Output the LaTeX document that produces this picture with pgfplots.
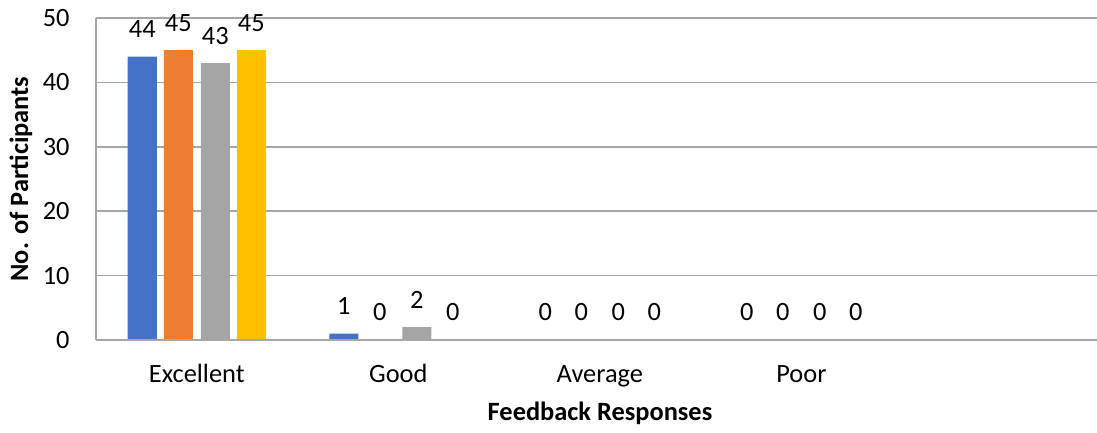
\documentclass[border=0pt]{standalone}
\usepackage{pgfplots}
\pgfplotsset{compat=1.18}
\usepackage{fontspec}
\setmainfont{Carlito}

\definecolor{c1}{HTML}{4472C4}
\definecolor{c2}{HTML}{ED7D31}
\definecolor{c3}{HTML}{A5A5A5}
\definecolor{c4}{HTML}{FFC000}
\definecolor{gridc}{HTML}{A6A6A6}

\begin{document}
\begin{tikzpicture}
\path[use as bounding box] (-48pt,-46.5pt) rectangle (500.5pt,170pt);
\begin{axis}[
    at={(0,0)}, anchor=south west,
    scale only axis,
    width=500.5pt, height=161pt,
    font=\fontsize{13.2}{15}\selectfont,
    /pgf/number format/assume math mode=true,
    ybar, bar width=0.144,
    xmin=-0.5, xmax=4.467,
    ymin=0, ymax=50,
    ytick={0,10,20,30,40,50},
    xtick={0,1,2,3},
    xticklabels={Excellent,Good,Average,Poor},
    major tick length=0pt,
    ymajorgrids=true,
    grid style={gridc, line width=0.75pt},
    axis x line*=bottom, axis y line*=left,
    axis line style={gridc, line width=0.75pt, -},
    xticklabel style={anchor=base, inner sep=0pt, yshift=-21pt},
    yticklabel style={anchor=east, inner sep=0pt, xshift=-13pt},
    xlabel={\textbf{Feedback Responses}},
    ylabel={\textbf{No. of Participants}},
    xlabel style={at={(axis description cs:0.5035,-0.2267)}, anchor=center},
    ylabel style={at={(axis description cs:-0.075,0.5)}, anchor=center, rotate=0},
    nodes near coords,
    every node near coord/.append style={anchor=base, inner sep=0pt, yshift=9.5pt, black},
    clip=false,
]
\addplot[fill=c1, draw=none, bar shift=-0.2705] coordinates {(0,44) (1,1) (2,0) (3,0)};
\addplot[fill=c2, draw=none, bar shift=-0.0918] coordinates {(0,45) (1,0) (2,0) (3,0)};
\addplot[fill=c3, draw=none, bar shift=0.0918] coordinates {(0,43) (1,2) (2,0) (3,0)};
\addplot[fill=c4, draw=none, bar shift=0.2705] coordinates {(0,45) (1,0) (2,0) (3,0)};
% baseline over the zero-height bars
\draw[gridc, line width=0.75pt] (rel axis cs:0,0) -- (rel axis cs:1,0);
\end{axis}
\end{tikzpicture}
\end{document}
